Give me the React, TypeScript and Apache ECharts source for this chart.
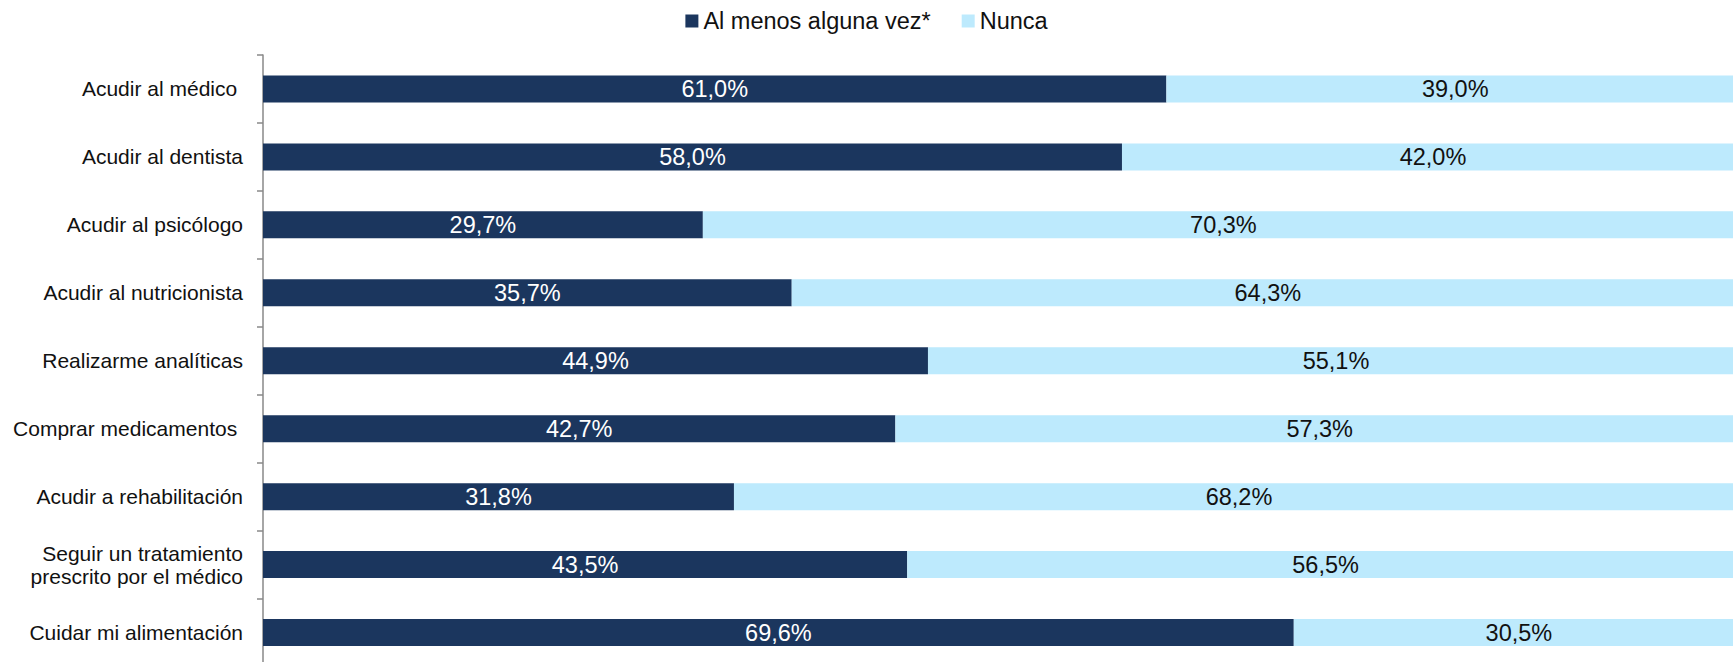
import React, { useEffect, useRef } from "react";
import * as echarts from "echarts";

const categories = [
  "Acudir al médico ",
  "Acudir al dentista",
  "Acudir al psicólogo",
  "Acudir al nutricionista",
  "Realizarme analíticas",
  "Comprar medicamentos ",
  "Acudir a rehabilitación",
  "Seguir un tratamiento\nprescrito por el médico",
  "Cuidar mi alimentación",
];
const alMenos = [61.0, 58.0, 29.7, 35.7, 44.9, 42.7, 31.8, 43.5, 69.6];
const nunca = [39.0, 42.0, 70.3, 64.3, 55.1, 57.3, 68.2, 56.5, 30.5];
const seriesNames = ["Al menos alguna vez*", "Nunca"];

const FONT = "'Liberation Sans', Arial, sans-serif";
const fmt = (p: any) => (p.value as number).toFixed(1).replace(".", ",") + "%";

export default function App() {
  const ref = useRef<HTMLDivElement>(null);
  useEffect(() => {
    if (!ref.current) return;
    const chart = echarts.init(ref.current, null, { renderer: "svg" });
    chart.setOption({
      animation: false,
      textStyle: { fontFamily: FONT },
      legend: {
        top: 4,
        left: "center",
        icon: "rect",
        itemWidth: 13,
        itemHeight: 13,
        itemGap: 31,
        textStyle: { fontSize: 23.5, color: "#111", fontFamily: FONT },
        data: seriesNames,
      },
      grid: {
        left: 263,
        width: 1481,
        top: 55,
        height: 611.5,
        containLabel: false,
        outerBoundsMode: "none",
      },
      xAxis: { type: "value", min: 0, max: 100, show: false },
      yAxis: {
        type: "category",
        data: categories,
        inverse: true,
        axisLine: { show: true, lineStyle: { color: "#888", width: 1.5 } },
        axisTick: { show: true, length: 6, lineStyle: { color: "#888", width: 1.5 } },
        axisLabel: {
          margin: 20,
          fontSize: 21,
          color: "#111",
          fontFamily: FONT,
          align: "right",
          lineHeight: 23,
        },
      },
      series: [
        {
          name: seriesNames[0],
          type: "bar",
          stack: "total",
          barWidth: 27,
          data: alMenos,
          itemStyle: { color: "#1b365e" },
          label: {
            show: true,
            position: "inside",
            formatter: fmt,
            color: "#ffffff",
            fontSize: 23.5,
            fontFamily: FONT,
          },
        },
        {
          name: seriesNames[1],
          type: "bar",
          stack: "total",
          barWidth: 27,
          data: nunca,
          itemStyle: { color: "#bdeafd" },
          label: {
            show: true,
            position: "inside",
            formatter: fmt,
            color: "#111",
            fontSize: 23.5,
            fontFamily: FONT,
          },
        },
      ],
    });
    return () => chart.dispose();
  }, []);
  return (
    <div
      ref={ref}
      style={{ position: "absolute", left: 0, top: 0, width: 1733, height: 662, background: "#fff" }}
    />
  );
}
